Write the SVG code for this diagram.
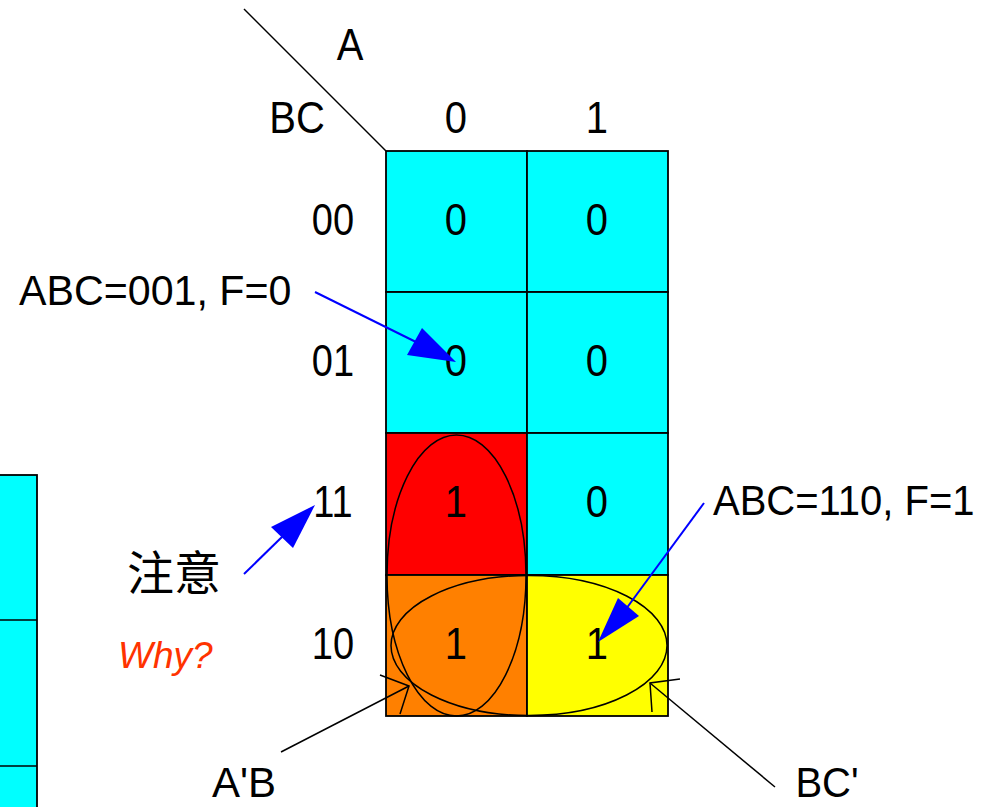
<svg xmlns="http://www.w3.org/2000/svg" width="996" height="807" viewBox="0 0 996 807">
<style>
text{font-family:"Liberation Sans",Arial,"Noto Sans CJK SC",sans-serif;fill:#000;font-size:40px}
.m{text-anchor:middle}
.cell{stroke:#000;stroke-width:1.8}
.cy{fill:#00FFFF}
.ov{fill:none;stroke:#000;stroke-width:1.5}
.bl{stroke:#0000FF;stroke-width:2;fill:none}
.bh{fill:#0000FF}
.k{stroke:#000;stroke-width:1.5;fill:none}
</style>
<rect width="996" height="807" fill="#fff"/>
<g id="left-table">
<rect x="-2" y="475" width="39" height="340" class="cell cy"/>
<line x1="0" y1="620" x2="37" y2="620" class="k"/>
<line x1="0" y1="766" x2="37" y2="766" class="k"/>
</g>
<g id="header">
<line x1="244" y1="9" x2="386" y2="151" class="k"/>
<text transform="translate(350 60) scale(1 1.12)" class="m">A</text>
<text transform="translate(297 133) scale(1 1.12)" class="m">BC</text>
<text transform="translate(456 133) scale(1 1.12)" class="m">0</text>
<text transform="translate(597 133) scale(1 1.12)" class="m">1</text>
<text transform="translate(333 235) scale(0.95 1.12)" class="m">00</text>
<text transform="translate(333 376) scale(0.95 1.12)" class="m">01</text>
<text transform="translate(333 517) scale(0.95 1.12)" class="m">11</text>
<text transform="translate(333 659) scale(0.95 1.12)" class="m">10</text>
</g>
<g id="cell-000"><rect x="386" y="151" width="141" height="141" class="cell cy"/><text transform="translate(456 235) scale(1 1.12)" class="m">0</text></g>
<g id="cell-100"><rect x="527" y="151" width="141" height="141" class="cell cy"/><text transform="translate(597 235) scale(1 1.12)" class="m">0</text></g>
<g id="cell-001"><rect x="386" y="292" width="141" height="141" class="cell cy"/><text transform="translate(456 376) scale(1 1.12)" class="m">0</text></g>
<g id="cell-101"><rect x="527" y="292" width="141" height="141" class="cell cy"/><text transform="translate(597 376) scale(1 1.12)" class="m">0</text></g>
<g id="cell-011"><rect x="386" y="433" width="141" height="142" class="cell" fill="#FF0000"/><text transform="translate(456 517) scale(1 1.12)" class="m">1</text></g>
<g id="cell-111"><rect x="527" y="433" width="141" height="142" class="cell cy"/><text transform="translate(597 517) scale(1 1.12)" class="m">0</text></g>
<g id="cell-010"><rect x="386" y="575" width="141" height="141" class="cell" fill="#FF8000"/><text transform="translate(456 659) scale(1 1.12)" class="m">1</text></g>
<g id="cell-110"><rect x="527" y="575" width="141" height="141" class="cell" fill="#FFFF00"/><text transform="translate(597 659) scale(1 1.12)" class="m">1</text></g>
<g id="groups">
<ellipse cx="456.5" cy="575.5" rx="69.5" ry="140.5" class="ov"/>
<ellipse cx="529" cy="645.5" rx="138" ry="70" class="ov"/>
</g>
<g id="labels">
<text transform="translate(19 305) scale(1.03 1.08)">ABC=001, F=0</text>
<text transform="translate(713 515) scale(1 1.08)">ABC=110, F=1</text>
<text x="127" y="590" style="font-size:47px">注意</text>
<text x="118" y="668" font-style="italic" style="fill:#FF3300;font-size:37px">Why?</text>
<text transform="translate(244 797) scale(1.05 1.08)" class="m">A'B</text>
<text transform="translate(827 797) scale(1 1.08)" class="m">BC'</text>
</g>
<g id="connectors">
<line x1="315" y1="292" x2="420" y2="344" class="bl"/>
<polygon points="456,362 422,328 407,355" class="bh"/>
<line x1="244" y1="574" x2="285" y2="534" class="bl"/>
<polygon points="315,505 271,527 293,548" class="bh"/>
<line x1="704" y1="503" x2="626" y2="609" class="bl"/>
<polygon points="598,642 618,598 639,616" class="bh"/>
<line x1="281" y1="752" x2="409" y2="686" class="k"/>
<polyline points="380,675 409,686 400,714" class="k"/>
<line x1="775" y1="787" x2="650" y2="683" class="k"/>
<polyline points="680,679 650,683 652,712" class="k"/>
</g>
</svg>
